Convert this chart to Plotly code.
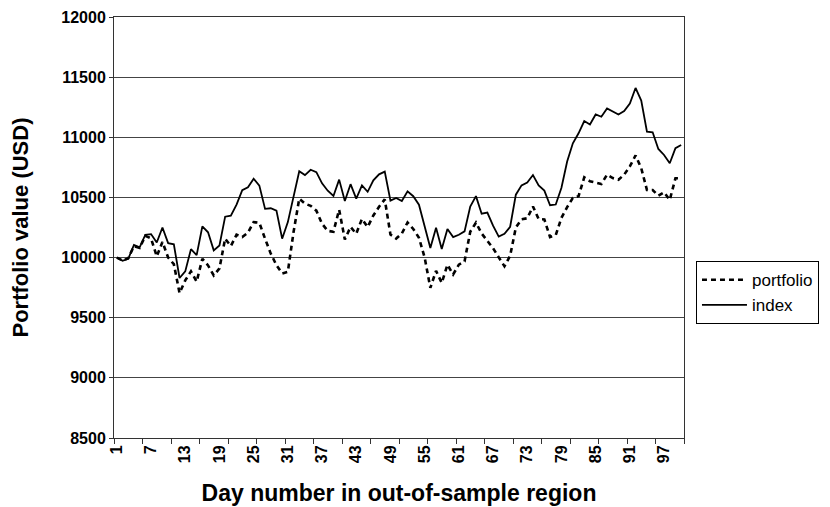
import plotly.graph_objects as go

days = list(range(1, 101))

index_values = [
    10000, 9973, 9990, 10105, 10085, 10190, 10195, 10125, 10250, 10120,
    10110, 9830, 9885, 10070, 10020, 10260, 10210, 10060, 10100, 10340,
    10348, 10440, 10560, 10585, 10655, 10598, 10405, 10410, 10391, 10157,
    10295, 10515, 10718, 10686, 10730, 10710, 10617, 10556, 10512, 10648,
    10470, 10610, 10490, 10600, 10547, 10642, 10692, 10715, 10473, 10496,
    10470, 10550, 10510, 10440, 10255, 10080, 10248, 10072, 10237, 10170,
    10190, 10218, 10425, 10511, 10365, 10374, 10265, 10174, 10197, 10256,
    10523, 10600, 10624, 10686, 10600, 10557, 10435, 10441, 10580, 10799,
    10950, 11033, 11135, 11107, 11190, 11171, 11240, 11218, 11190, 11218,
    11281, 11410, 11305, 11047, 11042, 10903, 10853, 10784, 10910, 10936,
]

portfolio_values = [
    10000, 9975, 9995, 10095, 10080, 10180, 10160, 10010, 10130, 10000,
    9945, 9705, 9810, 9885, 9800, 9990, 9935, 9852, 9910, 10157,
    10096, 10190, 10171, 10207, 10295, 10289, 10157, 10033, 9937, 9868,
    9882, 10212, 10490, 10448, 10430, 10390, 10281, 10222, 10215, 10398,
    10150, 10255, 10198, 10322, 10254, 10350, 10422, 10484, 10192, 10158,
    10200, 10292, 10238, 10165, 10000, 9748, 9890, 9790, 9940, 9860,
    9941, 9968, 10215, 10290, 10200, 10142, 10078, 10002, 9928, 10015,
    10250, 10318, 10327, 10425, 10320, 10317, 10171, 10187, 10331, 10419,
    10496, 10510, 10667, 10634, 10620, 10612, 10689, 10661, 10647, 10689,
    10758, 10849, 10743, 10562, 10562, 10515, 10543, 10479, 10659, 10660,
]

x_label_days = list(range(1, 101, 6))
x_tick_marks = [0.5 + 5 * i for i in range(21)]
y_ticks = list(range(8500, 12001, 500))

FONT = "Liberation Sans, Arial, sans-serif"

fig = go.Figure()
fig.add_trace(go.Scatter(
    x=days, y=portfolio_values, name="portfolio", mode="lines",
    line=dict(color="black", width=2.6, dash="5px,4px"),
))
fig.add_trace(go.Scatter(
    x=days, y=index_values, name="index", mode="lines",
    line=dict(color="black", width=1.8),
))

# page body has an 8px default margin, so the figure is 8px smaller each way
fig.update_layout(
    width=822, height=499,
    margin=dict(l=106, r=146, t=9, b=69, autoexpand=False),
    paper_bgcolor="white", plot_bgcolor="white",
    font=dict(family=FONT, color="black"),
    showlegend=True,
    legend=dict(
        x=1.021, y=0.42, xanchor="left", yanchor="top",
        bordercolor="black", borderwidth=1,
        font=dict(family=FONT, size=17, color="black"),
        itemwidth=45,
        tracegroupgap=0,
    ),
    xaxis=dict(
        range=[0.5, 100.5],
        tickmode="array", tickvals=x_label_days,
        ticktext=[str(d) for d in x_label_days],
        ticks="",
        tickfont=dict(family=FONT, size=16, color="black", weight="bold"),
        showgrid=False, zeroline=False,
        showline=True, linecolor="#333", linewidth=1, mirror=True,
        minor=dict(tickmode="array", tickvals=x_tick_marks, ticks="outside",
                   ticklen=5, tickcolor="#333", tickwidth=1, showgrid=False),
        title=dict(text="Day number in out-of-sample region",
                   font=dict(family=FONT, size=23, color="black", weight="bold"),
                   standoff=22),
        automargin=False,
    ),
    yaxis=dict(
        range=[8500, 12000],
        tickmode="array", tickvals=y_ticks,
        ticktext=[str(v) for v in y_ticks],
        ticklabeloverflow="allow",
        ticks="outside", ticklen=4, tickcolor="#333",
        tickfont=dict(family=FONT, size=16, color="black", weight="bold"),
        showgrid=True, gridcolor="#444", gridwidth=1,
        zeroline=False,
        showline=True, linecolor="#333", linewidth=1, mirror=True,
        title=dict(text="Portfolio value (USD)",
                   font=dict(family=FONT, size=22, color="black", weight="bold"),
                   standoff=27),
        automargin=False,
    ),
)
fig.update_xaxes(tickangle=-90)

fig.write_html("out.html")
